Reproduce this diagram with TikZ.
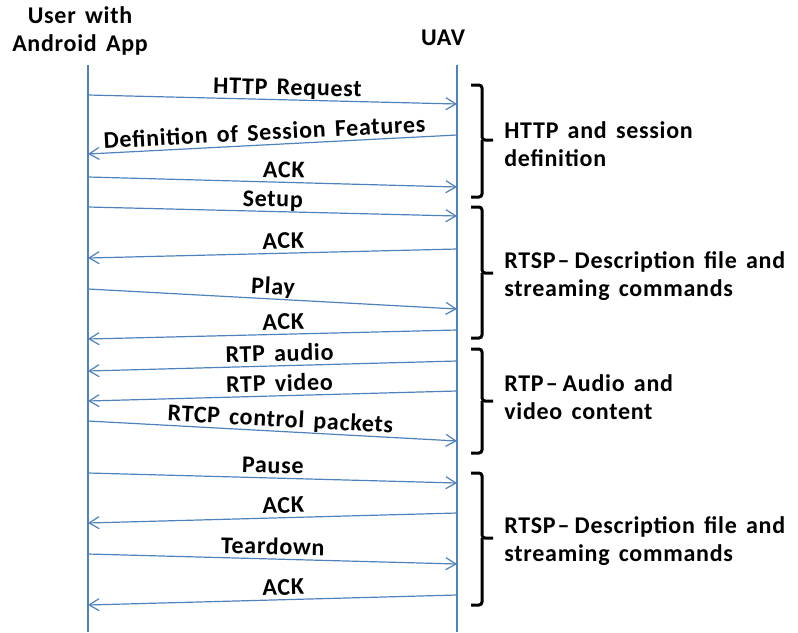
\documentclass[tikz,border=0pt]{standalone}
\usepackage{fontspec}
\setmainfont{Carlito}[LetterSpace=3, WordSpace=1.5]
\usetikzlibrary{arrows.meta, positioning}
\definecolor{lineblue}{RGB}{79,129,189}

\begin{document}
\begin{tikzpicture}[x=0.5pt, y=-0.5pt,
    life/.style={draw=lineblue, line width=1.2pt},
    msg/.style={draw=lineblue, line width=0.6pt, -{Straight Barb[length=5pt,width=6pt]}},
    lbl/.style={font=\bfseries\fontsize{12}{14}\selectfont, inner sep=2pt, text depth=0pt},
    head/.style={font=\bfseries\fontsize{12}{14}\selectfont, align=center, inner sep=0pt},
    brace/.style={draw=black, line width=1.5pt, rounded corners=1.5pt},
    grp/.style={font=\bfseries\fontsize{12}{14}\selectfont, align=left, anchor=west, inner sep=0pt}]

   \useasboundingbox (0,0) rectangle (798,632);

   % Draw the lifelines
   \coordinate (U1) at (88,65);
   \coordinate (U2) at (88,632);
   \coordinate (V1) at (457,65);
   \coordinate (V2) at (457,632);
   \draw[life] (U1) -- (U2);
   \draw[life] (V1) -- (V2);

   % Label the lifelines
   \node[head] (user) at (80,31) {User with\\Android App};
   \node[head] (uav) at (443,38) {UAV};

   % Messages from the app to the UAV
   \foreach \n/\ya/\yb/\txt/\p in {1/95/104/HTTP Request/0.54, 3/177/187/ACK/0.53,
       4/207/216/Setup/0.5, 6/289/309/Play/0.5, 10/421/441/RTCP control packets/0.52,
       11/473/483/Pause/0.5, 13/554/564/Teardown/0.5}
   {
       \coordinate (L\n) at (88,\ya);
       \coordinate (R\n) at (457,\yb);
       \draw[msg] (L\n) -- node[lbl, sloped, above, pos=\p] (m\n) {\txt} (R\n);
   }

   % Messages from the UAV to the app
   \foreach \n/\ya/\yb/\txt/\p in {2/154/135/Definition of Session Features/0.52,
       5/258/249/ACK/0.47, 7/339/330/ACK/0.47, 8/371/361/RTP audio/0.48,
       9/401/391/RTP video/0.48, 12/523/513/ACK/0.47, 14/605/595/ACK/0.47}
   {
       \coordinate (L\n) at (88,\ya);
       \coordinate (R\n) at (457,\yb);
       \draw[msg] (R\n) -- node[lbl, sloped, above, pos=\p] (m\n) {\txt} (L\n);
   }

   % Draw the braces
   \foreach \n/\ta/\tm/\tb in {1/85/140/197, 2/207/273/338, 3/349/401/453, 4/473/538/605}
   {
       \coordinate (tip\n) at (493,\tm);
       \draw[brace] (471,\ta) -- (482,\ta) -- (482,\tm) -- (tip\n);
       \draw[brace] (471,\tb) -- (482,\tb) -- (482,\tm);
   }

   % Label the phases
   \node[grp] (g1) at (504,144) {HTTP and session\\definition};
   \node[grp] (g2) at (504,276) {RTSP\kern1pt–\kern2.5pt Description file and\\streaming commands};
   \node[grp] (g3) at (504,397) {RTP\kern1pt–\kern2.5pt Audio and\\video content};
   \node[grp] (g4) at (504,541) {RTSP\kern1pt–\kern2.5pt Description file and\\streaming commands};

\end{tikzpicture}
\end{document}
